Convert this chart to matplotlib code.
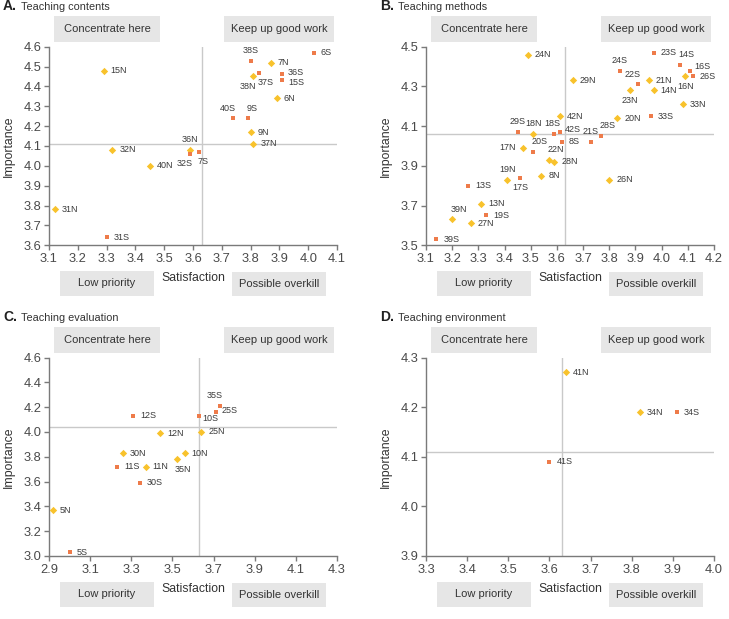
import numpy as np
import matplotlib
matplotlib.use("Agg")
import matplotlib.pyplot as plt
from matplotlib.patches import Rectangle
from matplotlib.ticker import FormatStrFormatter

plt.rcParams['font.family'] = ['Liberation Sans', 'DejaVu Sans']

W, H = 729, 619

# ---- panel A: teaching contents ----
a_n_lab = ['15N', '7N', '38N', '6N', '9N', '37N', '36N', '32N', '40N', '31N']
a_n_x = [3.29, 3.87, 3.81, 3.89, 3.80, 3.81, 3.59, 3.32, 3.45, 3.12]
a_n_y = [4.48, 4.52, 4.45, 4.34, 4.17, 4.11, 4.08, 4.08, 4.00, 3.78]
a_s_lab = ['38S', '6S', '37S', '36S', '15S', '40S', '9S', '7S', '32S', '31S']
a_s_x = [3.80, 4.02, 3.83, 3.91, 3.91, 3.74, 3.79, 3.62, 3.59, 3.30]
a_s_y = [4.53, 4.57, 4.47, 4.46, 4.43, 4.24, 4.24, 4.07, 4.06, 3.64]
a_ref = (3.63, 4.11)

# ---- panel B: teaching methods ----
b_n_lab = ['24N', '29N', '21N', '16N', '23N', '14N', '33N', '20N', '42N', '18N',
           '17N', '22N', '28N', '19N', '8N', '26N', '13N', '39N', '27N']
b_n_x = [3.49, 3.66, 3.95, 4.09, 3.88, 3.97, 4.08, 3.83, 3.61, 3.51,
         3.47, 3.57, 3.59, 3.41, 3.54, 3.80, 3.31, 3.20, 3.27]
b_n_y = [4.46, 4.33, 4.33, 4.35, 4.28, 4.28, 4.21, 4.14, 4.15, 4.06,
         3.99, 3.93, 3.92, 3.83, 3.85, 3.83, 3.71, 3.63, 3.61]
b_s_lab = ['23S', '14S', '16S', '24S', '22S', '26S', '33S', '29S', '18S', '42S',
           '8S', '21S', '28S', '20S', '17S', '13S', '19S', '39S']
b_s_x = [3.97, 4.07, 4.11, 3.84, 3.91, 4.12, 3.96, 3.45, 3.59, 3.61,
         3.62, 3.73, 3.77, 3.51, 3.46, 3.26, 3.33, 3.14]
b_s_y = [4.47, 4.41, 4.38, 4.38, 4.31, 4.35, 4.15, 4.07, 4.06, 4.07,
         4.02, 4.02, 4.05, 3.97, 3.84, 3.80, 3.65, 3.53]
b_ref = (3.63, 4.06)

# ---- panel C: teaching evaluation ----
c_n_lab = ['12N', '25N', '30N', '10N', '35N', '11N', '5N']
c_n_x = [3.44, 3.64, 3.26, 3.56, 3.52, 3.37, 2.92]
c_n_y = [3.99, 4.00, 3.83, 3.83, 3.78, 3.72, 3.37]
c_s_lab = ['35S', '25S', '10S', '12S', '11S', '30S', '5S']
c_s_x = [3.73, 3.71, 3.63, 3.31, 3.23, 3.34, 3.00]
c_s_y = [4.21, 4.16, 4.13, 4.13, 3.72, 3.59, 3.03]
c_ref = (3.63, 4.04)

# ---- panel D: teaching environment ----
d_n_lab = ['41N', '34N']
d_n_x = [3.64, 3.82]
d_n_y = [4.27, 4.19]
d_s_lab = ['34S', '41S']
d_s_x = [3.91, 3.60]
d_s_y = [4.19, 4.09]
d_ref = (3.63, 4.11)

# label placement (default: right of the point)
place = {
    'A': {'38S': 'a', '37S': 'br', '38N': 'bl', '40S': 'al', '9S': 'ar',
          '36N': 'a', '7S': 'br', '32S': 'bl', '36S': 'ru', '15S': 'rd'},
    'B': {'14S': 'ar', '16S': 'ruu', '24S': 'a', '22S': 'al', '16N': 'b',
          '23N': 'b', '29S': 'a', '18N': 'a', '18S': 'alr', '21S': 'a',
          '28S': 'ar', '17N': 'l', '20S': 'ar', '22N': 'ar', '19N': 'a',
          '17S': 'b', '39N': 'ar', '42S': 'ru'},
    'C': {'35S': 'al', '10S': 'rt', '35N': 'br', '25S': 'ru'},
    'D': {},
}
offsets = {
    'r': ((5, 0), 'left', 'center'),
    'ru': ((4, 1.5), 'left', 'center'),
    'ruu': ((3, 3), 'left', 'center'),
    'rd': ((4, -1.5), 'left', 'center'),
    'rt': ((2, 1), 'left', 'top'),
    'l': ((-5, 0), 'right', 'center'),
    'a': ((0, 4), 'center', 'bottom'),
    'b': ((0, -4), 'center', 'top'),
    'al': ((2, 4), 'right', 'bottom'),
    'alr': ((4, 4), 'right', 'bottom'),
    'ar': ((-1, 4), 'left', 'bottom'),
    'bl': ((2, -4), 'right', 'top'),
    'br': ((-1, -4), 'left', 'top'),
}

YELLOW = '#F8C22C'
ORANGE = '#EE7B4A'
BOXC = '#E6E6E6'


def frac(x0, y0, w, h):
    return [x0 / W, 1 - (y0 + h) / H, w / W, h / H]


def box(fig, x0, y0, x1, y1, text):
    fig.patches.append(Rectangle((x0 / W, 1 - y1 / H), (x1 - x0) / W, (y1 - y0) / H,
                                 transform=fig.transFigure, facecolor=BOXC,
                                 edgecolor='none', zorder=0))
    fig.text((x0 + x1) / 2 / W, 1 - (y0 + y1) / 2 / H, text, ha='center', va='center',
             fontsize=8, color='#333333')


def panel(fig, key, title, left, top, xlim, xstep, ylim, ystep,
          nl, nx, ny, sl, sx, sy, ref):
    ax = fig.add_axes(frac(left, top, 288, 198.5))
    ax.axvline(ref[0], color='#c9c9c9', lw=1, zorder=1)
    ax.axhline(ref[1], color='#c9c9c9', lw=1, zorder=1)
    ax.scatter(nx, ny, marker='D', s=14, color=YELLOW, linewidths=0, zorder=3)
    ax.scatter(sx, sy, marker='s', s=10, color=ORANGE, linewidths=0, zorder=3)
    for labs, xs, ys in ((nl, nx, ny), (sl, sx, sy)):
        for lab, x, y in zip(labs, xs, ys):
            off, ha, va = offsets[place[key].get(lab, 'r')]
            ax.annotate(lab, (x, y), xytext=off, textcoords='offset points',
                        ha=ha, va=va, fontsize=6.5, color='#3a3a3a', zorder=4)
    ax.set_xlim(*xlim)
    ax.set_ylim(*ylim)
    ax.set_xticks(np.round(np.arange(xlim[0], xlim[1] + 1e-9, xstep), 2))
    ax.set_yticks(np.round(np.arange(ylim[0], ylim[1] + 1e-9, ystep), 2))
    ax.xaxis.set_major_formatter(FormatStrFormatter('%.1f'))
    ax.yaxis.set_major_formatter(FormatStrFormatter('%.1f'))
    for s in ('top', 'right'):
        ax.spines[s].set_visible(False)
    for s in ('left', 'bottom'):
        ax.spines[s].set_color('#7a7a7a')
        ax.spines[s].set_linewidth(1)
    ax.tick_params(length=3.5, width=1, color='#7a7a7a', labelsize=9.3,
                   labelcolor='#4a4a4a', pad=2)
    ax.set_xlabel('Satisfaction', fontsize=8.8, color='#333333', labelpad=5)
    ax.set_ylabel('Importance', fontsize=8.8, color='#333333', labelpad=6)
    ax.patch.set_alpha(0)

    # quadrant boxes
    box(fig, left + 5, top - 30.7, left + 111, top - 5, 'Concentrate here')
    box(fig, left + 175, top - 30.7, left + 285, top - 5, 'Keep up good work')
    box(fig, left + 11, top + 224.5, left + 105, top + 249, 'Low priority')
    box(fig, left + 183, top + 225, left + 277, top + 249, 'Possible overkill')

    # panel title
    tx = left - 46
    ty = top - 36.5
    fig.text(tx / W, 1 - ty / H, key + '.', fontsize=10, fontweight='bold',
             color='#222222', ha='left', va='baseline',
             family=['Liberation Sans Narrow', 'Liberation Sans', 'DejaVu Sans'])
    fig.text((tx + 18) / W, 1 - ty / H, title, fontsize=7.8, color='#333333',
             ha='left', va='baseline')
    return ax


fig = plt.figure(figsize=(W / 100, H / 100), dpi=100)
fig.patch.set_facecolor('white')

panel(fig, 'A', 'Teaching contents', 49, 46.7, (3.1, 4.1), 0.1, (3.6, 4.6), 0.1,
      a_n_lab, a_n_x, a_n_y, a_s_lab, a_s_x, a_s_y, a_ref)
panel(fig, 'B', 'Teaching methods', 426, 46.7, (3.1, 4.2), 0.1, (3.5, 4.5), 0.2,
      b_n_lab, b_n_x, b_n_y, b_s_lab, b_s_x, b_s_y, b_ref)
panel(fig, 'C', 'Teaching evaluation', 49, 357.5, (2.9, 4.3), 0.2, (3.0, 4.6), 0.2,
      c_n_lab, c_n_x, c_n_y, c_s_lab, c_s_x, c_s_y, c_ref)
panel(fig, 'D', 'Teaching environment', 426, 357.5, (3.3, 4.0), 0.1, (3.9, 4.3), 0.1,
      d_n_lab, d_n_x, d_n_y, d_s_lab, d_s_x, d_s_y, d_ref)

fig.savefig('out.png', dpi=100)
